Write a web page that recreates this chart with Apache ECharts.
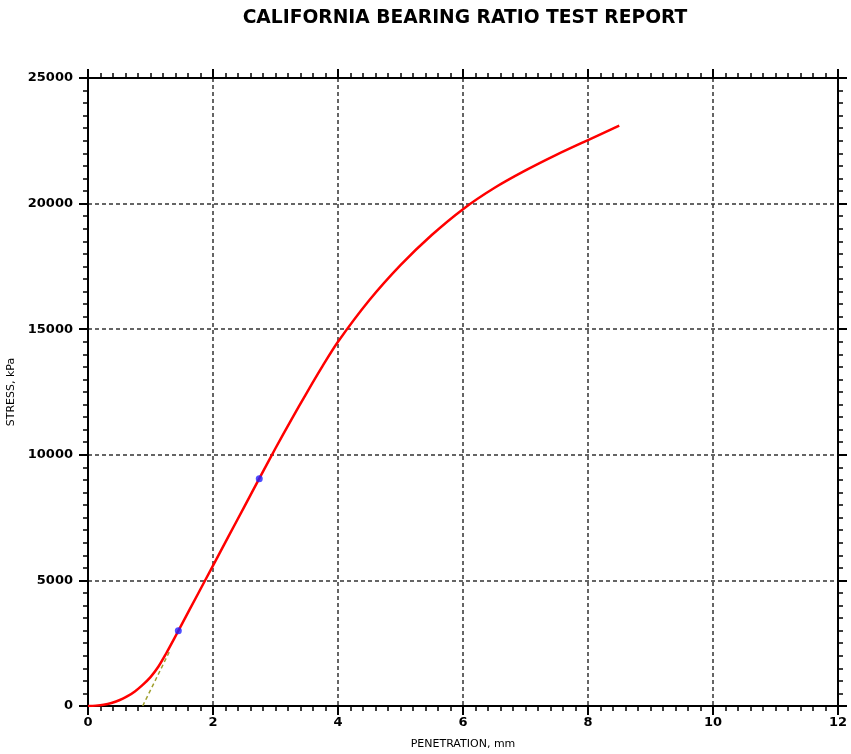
<!DOCTYPE html>
<html>
<head>
<meta charset="utf-8">
<script src="https://cdn.jsdelivr.net/npm/echarts@6/dist/echarts.min.js"></script>
<style>html,body{margin:0;padding:0;background:#fff}#c{width:851px;height:754px}</style>
</head>
<body>
<div id="c"></div>
<script>
var penetration = [0, 0.125, 0.25, 0.375, 0.5, 0.625, 0.75, 0.875, 1.0, 1.125, 1.25, 1.375, 1.5, 1.75, 2.0, 2.25, 2.5, 2.75, 3.0, 3.25, 3.5, 3.75, 4.0, 4.5, 5.0, 5.5, 6.0, 6.5, 7.0, 7.5, 8.0, 8.5];
var stress = [0, 15, 50, 120, 230, 380, 580, 840, 1150, 1560, 2090, 2660, 3250, 4420, 5590, 6760, 7930, 9100, 10260, 11380, 12470, 13520, 14500, 16150, 17550, 18750, 19780, 20620, 21320, 21950, 22530, 23100];
var markX = [1.445, 2.74];
var markY = [3000, 9050];
var tangentX = [0.875, 1.32];
var tangentY = [0, 2250];
var xTicks = [0, 2, 4, 6, 8, 10, 12];
var yTicks = [0, 5000, 10000, 15000, 20000, 25000];

function zip(a, b) { return a.map(function (v, i) { return [v, b[i]]; }); }

var chart = echarts.init(document.getElementById('c'), null, {renderer: 'canvas'});
var font = '"DejaVu Sans", Verdana, sans-serif';
var axisBase = {
  axisLine: {show: true, onZero: false, lineStyle: {color: '#000', width: 2}},
  axisTick: {show: true, inside: false, length: 9, lineStyle: {color: '#000', width: 2}},
  minorTick: {show: true, splitNumber: 10, length: 5, lineStyle: {color: '#000', width: 1.5}}
};
var option = {
  animation: false,
  backgroundColor: '#fff',
  title: {
    text: 'CALIFORNIA BEARING RATIO TEST REPORT',
    left: 460, top: 4, textAlign: 'center',
    textStyle: {fontFamily: font, fontSize: 18.7, fontWeight: 'bold', color: '#000'}
  },
  grid: {left: 88, right: 13, top: 78, bottom: 48, containLabel: false, outerBoundsMode: 'none'},
  xAxis: [
    Object.assign({}, axisBase, {
      type: 'value', position: 'bottom', min: xTicks[0], max: xTicks[xTicks.length - 1], interval: 2,
      name: 'PENETRATION, mm', nameLocation: 'middle', nameGap: 33,
      nameTextStyle: {fontFamily: font, fontSize: 11, color: '#000'},
      axisLabel: {fontFamily: font, fontSize: 13, fontWeight: 'bold', color: '#000', margin: 10,
        formatter: function (v) { return String(v); }},
      splitLine: {show: true, lineStyle: {color: '#333', width: 1.5, type: [4, 3]}}
    }),
    Object.assign({}, axisBase, {
      type: 'value', position: 'top', min: xTicks[0], max: xTicks[xTicks.length - 1], interval: 2,
      axisLabel: {show: false}, splitLine: {show: false}
    })
  ],
  yAxis: [
    Object.assign({}, axisBase, {
      type: 'value', position: 'left', min: yTicks[0], max: yTicks[yTicks.length - 1], interval: 5000,
      name: 'STRESS, kPa', nameLocation: 'middle', nameGap: 70, nameRotate: 90,
      nameTextStyle: {fontFamily: font, fontSize: 11, color: '#000'},
      axisLabel: {fontFamily: font, fontSize: 13, fontWeight: 'bold', color: '#000', margin: 15,
        formatter: function (v) { return String(v); }},
      splitLine: {show: true, lineStyle: {color: '#333', width: 1.5, type: [4, 3]}}
    }),
    Object.assign({}, axisBase, {
      type: 'value', position: 'right', min: yTicks[0], max: yTicks[yTicks.length - 1], interval: 5000,
      axisLabel: {show: false}, splitLine: {show: false}
    })
  ],
  series: [
    {
      type: 'line', data: zip(tangentX, tangentY), showSymbol: false, symbol: 'none',
      lineStyle: {color: '#a0a030', width: 1.5, type: [4, 3]}, z: 3
    },
    {
      type: 'line', data: zip(penetration, stress), smooth: 0.3,
      showSymbol: false, symbol: 'none',
      lineStyle: {color: '#ff0000', width: 2.5}, z: 4
    },
    {
      type: 'scatter', data: zip(markX, markY), symbol: 'circle', symbolSize: 7,
      itemStyle: {color: '#2020ff'}, z: 5
    }
  ]
};
chart.setOption(option);
</script>
</body>
</html>
